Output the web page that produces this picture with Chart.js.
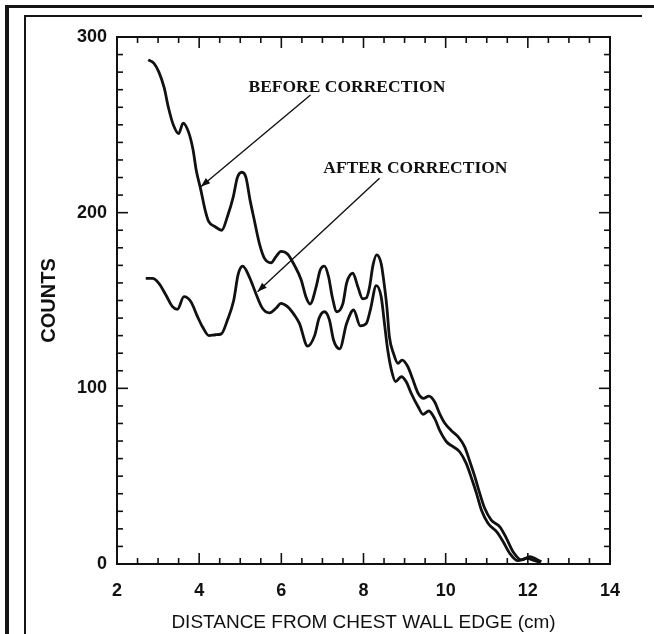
<!DOCTYPE html>
<html>
<head>
<meta charset="utf-8">
<script src="https://cdn.jsdelivr.net/npm/chart.js@4/dist/chart.umd.min.js"></script>
<style>
  html, body { margin: 0; padding: 0; background: #fff; }
  #wrap { position: relative; width: 654px; height: 634px; overflow: hidden; }
  canvas { position: absolute; left: 0; top: 0; }
  .rule { position: absolute; background: #151515; }
</style>
</head>
<body>
<div id="wrap">
  <canvas id="myChart" width="654" height="634"></canvas>
  <!-- scanned page frame -->
  <div class="rule" style="left:5px;top:5px;width:4px;height:629px"></div>
  <div class="rule" style="left:5px;top:5px;width:649px;height:3px"></div>
  <div class="rule" style="left:24px;top:15px;width:2px;height:619px"></div>
  <div class="rule" style="left:24px;top:15px;width:618px;height:2px"></div>
</div>
<script>
// # Data
const beforeX = [2.76, 2.90, 3.02, 3.15, 3.25, 3.37, 3.50, 3.61, 3.74, 3.85, 3.93, 4.04, 4.15, 4.23, 4.39, 4.55, 4.69, 4.83, 4.93, 5.04, 5.14, 5.24, 5.34, 5.46, 5.59, 5.75, 5.87, 5.99, 6.15, 6.32, 6.48, 6.60, 6.70, 6.85, 6.94, 7.05, 7.15, 7.24, 7.35, 7.50, 7.59, 7.74, 7.86, 7.98, 8.07, 8.15, 8.23, 8.32, 8.43, 8.50, 8.57, 8.63, 8.73, 8.84, 8.94, 9.08, 9.19, 9.33, 9.46, 9.59, 9.73, 9.85, 9.98, 10.14, 10.30, 10.46, 10.59, 10.71, 10.83, 10.95, 11.11, 11.32, 11.48, 11.64, 11.85, 12.05, 12.21, 12.33];
const beforeY = [287, 285, 280, 271, 260, 250, 245, 251, 246, 236, 224, 213, 201, 195, 192, 190, 198, 209, 220, 223, 220, 207, 196, 183, 174, 171.5, 175, 178, 176.5, 170, 162, 152, 148, 158, 167, 169.6, 163.5, 152, 143.6, 148.4, 160, 165.5, 158, 151, 151.5, 158, 170, 176, 171, 160, 146, 129.4, 119.9, 114.2, 116.1, 112.3, 105.7, 97.2, 94.3, 95.6, 92.4, 85.8, 80.1, 75.9, 72.5, 66.8, 58.2, 49.7, 40.2, 31.7, 25, 21.2, 14.6, 7, 2.3, 4.2, 2.7, 1.3];

const afterX = [2.70, 2.86, 3.02, 3.19, 3.35, 3.47, 3.63, 3.80, 3.96, 4.08, 4.24, 4.40, 4.54, 4.69, 4.84, 4.95, 5.06, 5.22, 5.38, 5.54, 5.71, 5.87, 5.99, 6.15, 6.32, 6.44, 6.64, 6.81, 6.92, 7.05, 7.17, 7.27, 7.42, 7.59, 7.76, 7.92, 8.07, 8.17, 8.31, 8.43, 8.51, 8.59, 8.68, 8.78, 8.92, 9.04, 9.16, 9.33, 9.45, 9.59, 9.73, 9.87, 10.02, 10.18, 10.34, 10.50, 10.63, 10.75, 10.87, 11.03, 11.24, 11.40, 11.56, 11.76, 11.97, 12.17, 12.31];
const afterY = [162.6, 162.6, 159.8, 153.1, 146.5, 145, 152.2, 149.3, 140.8, 135.1, 130, 130.5, 131, 139, 150, 165, 169.6, 163.5, 154, 145.6, 143, 145.6, 148.4, 146.5, 141.7, 137, 124, 130, 140, 143.6, 139, 127.5, 122.5, 137, 144.6, 135.6, 137, 145, 158.5, 152.2, 137, 121.8, 110.4, 103.8, 106.6, 103.8, 97.2, 89.5, 85.2, 87.1, 82.9, 75.3, 69.6, 66.8, 63.9, 57.3, 48.8, 40.2, 30.7, 23.2, 18.4, 12.7, 6.1, 1.9, 3.2, 1.9, 0.8];

const xTicks = [2, 4, 6, 8, 10, 12, 14];
const yTicks = [0, 100, 200, 300];

// # Labels with arrows, in data units (label anchor, arrow start, arrow tip)
const notes = [
  { text: "BEFORE CORRECTION", at: [5.2, 271.5], from: [6.71, 267], to: [4.04, 214.8] },
  { text: "AFTER CORRECTION", at: [7.02, 225.4], from: [8.39, 219.6], to: [5.42, 155] },
];

const toPoints = (xs, ys) => xs.map((x, i) => ({ x: x, y: ys[i] }));

// # Box, inward ticks on all four sides and the arrows
const frameTicks = {
  id: "frameTicks",
  afterDatasetsDraw(chart) {
    const { ctx, chartArea: a, scales } = chart;
    const x = scales.x, y = scales.y;
    const seg = (x1, y1, x2, y2) => {
      ctx.beginPath(); ctx.moveTo(x1, y1); ctx.lineTo(x2, y2); ctx.stroke();
    };
    ctx.save();
    ctx.strokeStyle = "#111";
    ctx.lineWidth = 2;
    ctx.strokeRect(a.left, a.top, a.right - a.left, a.bottom - a.top);

    ctx.lineWidth = 1.6;
    for (let v = x.min; v <= x.max + 0.001; v += 0.5) {
      const px = x.getPixelForValue(v);
      const len = xTicks.includes(v) ? 11 : 6;
      seg(px, a.bottom, px, a.bottom - len);
      seg(px, a.top, px, a.top + len);
    }
    for (let v = y.min; v <= y.max + 0.001; v += 10) {
      const py = y.getPixelForValue(v);
      const len = yTicks.includes(v) ? 11 : 6;
      seg(a.left, py, a.left + len, py);
      seg(a.right, py, a.right - len, py);
    }

    // annotations
    ctx.fillStyle = "#111";
    ctx.font = "bold 17.5px 'Liberation Serif', 'DejaVu Serif', serif";
    ctx.textBaseline = "middle";
    ctx.textAlign = "left";
    ctx.lineWidth = 1.4;
    notes.forEach((n) => {
      ctx.fillText(n.text, x.getPixelForValue(n.at[0]), y.getPixelForValue(n.at[1]));
      const x1 = x.getPixelForValue(n.from[0]), y1 = y.getPixelForValue(n.from[1]);
      const x2 = x.getPixelForValue(n.to[0]), y2 = y.getPixelForValue(n.to[1]);
      seg(x1, y1, x2, y2);
      const ang = Math.atan2(y2 - y1, x2 - x1);
      const h = 10, w = 0.35;
      ctx.beginPath();
      ctx.moveTo(x2, y2);
      ctx.lineTo(x2 - h * Math.cos(ang - w), y2 - h * Math.sin(ang - w));
      ctx.lineTo(x2 - h * Math.cos(ang + w), y2 - h * Math.sin(ang + w));
      ctx.closePath();
      ctx.fill();
    });
    ctx.restore();
  },
};

const chart = document.getElementById("myChart");

new Chart(chart, {
  type: "line",
  data: {
    datasets: [
      {
        label: "Before correction",
        data: toPoints(beforeX, beforeY),
        borderColor: "#111",
        borderWidth: 2.8,
        pointRadius: 0,
        cubicInterpolationMode: "monotone",
      },
      {
        label: "After correction",
        data: toPoints(afterX, afterY),
        borderColor: "#111",
        borderWidth: 2.8,
        pointRadius: 0,
        cubicInterpolationMode: "monotone",
      },
    ],
  },
  options: {
    responsive: false,
    animation: false,
    layout: { padding: { left: 0, top: 37, right: 44, bottom: 0 } },
    plugins: { legend: { display: false }, tooltip: { enabled: false } },
    scales: {
      x: {
        type: "linear",
        min: 2,
        max: 14,
        afterBuildTicks: (s) => { s.ticks = xTicks.map((v) => ({ value: v })); },
        afterFit: (s) => { s.height = 70; },
        grid: { display: false, drawTicks: false },
        border: { display: false },
        ticks: {
          padding: 16,
          color: "#111",
          font: { family: "'Liberation Sans', Arial, sans-serif", size: 18, weight: "bold" },
        },
        title: {
          display: true,
          text: "DISTANCE FROM CHEST WALL EDGE (cm)",
          color: "#111",
          padding: { top: 5, bottom: 0 },
          font: { family: "'Liberation Sans', Arial, sans-serif", size: 19 },
        },
      },
      y: {
        min: 0,
        max: 300,
        afterBuildTicks: (s) => { s.ticks = yTicks.map((v) => ({ value: v })); },
        afterFit: (s) => { s.width = 117; },
        grid: { display: false, drawTicks: false },
        border: { display: false },
        ticks: {
          padding: 10,
          color: "#111",
          font: { family: "'Liberation Sans', Arial, sans-serif", size: 18, weight: "bold" },
        },
        title: {
          display: true,
          text: "COUNTS",
          color: "#111",
          padding: { top: 37, bottom: 0 },
          font: { family: "'Liberation Sans', Arial, sans-serif", size: 20, weight: "bold" },
        },
      },
    },
  },
  plugins: [frameTicks],
});
</script>
</body>
</html>
